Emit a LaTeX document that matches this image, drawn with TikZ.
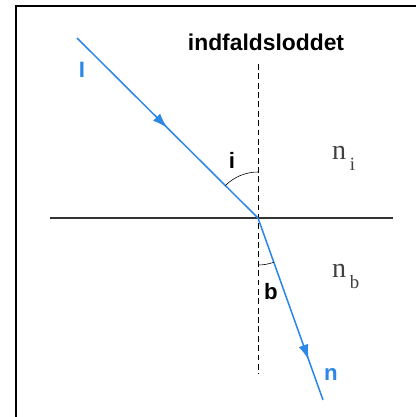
\documentclass[tikz,border=0pt]{standalone}
\usepackage{fontspec}
\setmainfont{Liberation Serif}
\setsansfont{Liberation Sans}
\usepackage{tikz}
\usetikzlibrary{arrows.meta,calc,angles,quotes,decorations.markings}
\definecolor{rayblue}{RGB}{45,135,230}

\begin{document}
\begin{tikzpicture}[x=0.03cm,y=-0.03cm,>=Latex,
    ray/.style={rayblue,line width=1.3pt,postaction={decorate},
      decoration={markings,mark=at position #1 with {\arrow{Latex[length=4.6mm,width=3mm]}}}},
    lbl/.style={font=\sffamily\bfseries\fontsize{19}{21}\selectfont,inner sep=0pt},
    medium/.style={black!75,font=\fontsize{24}{26}\selectfont,inner sep=0pt}]
  \useasboundingbox (0,0) rectangle (416,417);
  \draw[line width=2pt] (16,417) -- (16,6) -- (416,6);
  % punkter
  \coordinate (O) at (258,218);
  \coordinate (src) at (77,38);
  \coordinate (dst) at (323,400);
  \coordinate (top) at (258,64);
  \coordinate (bot) at (258,374);
  \coordinate (L) at (50,218);
  \coordinate (R) at (393,218);
  % graense og lod
  \draw[black!80,line width=0.9pt] (L) -- (R);
  \draw[dashed,dash pattern=on 5pt off 3pt,line width=0.6pt] (top) -- (bot);
  % straaler
  \draw[ray=0.5] (src) -- (O);
  \draw[ray=0.78] (O) -- (dst);
  % vinkler
  \draw[line width=0.5pt] pic[draw,angle radius=1.38cm] {angle=top--O--src};
  \draw[line width=0.5pt] pic[draw,angle radius=1.41cm] {angle=bot--O--dst};
  % tekster
  \node[lbl,font=\sffamily\bfseries\fontsize{19.5}{22}\selectfont] (lod) at (266,42) {indfaldsloddet};
  \node[lbl,rayblue] (I) at (82,70) {I};
  \node[lbl] (i) at (232,160) {i};
  \node[lbl] (b) at (271,292) {b};
  \node[lbl,rayblue] (n) at (331,375) {n};
  \node[medium,anchor=base west] (ni) at (332,159) {n\kern3pt\raisebox{-0.4em}{\fontsize{16}{17}\selectfont i}};
  \node[medium,anchor=base west] (nb) at (332,277) {n\kern3pt\raisebox{-0.4em}{\fontsize{16}{17}\selectfont b}};
\end{tikzpicture}
\end{document}
